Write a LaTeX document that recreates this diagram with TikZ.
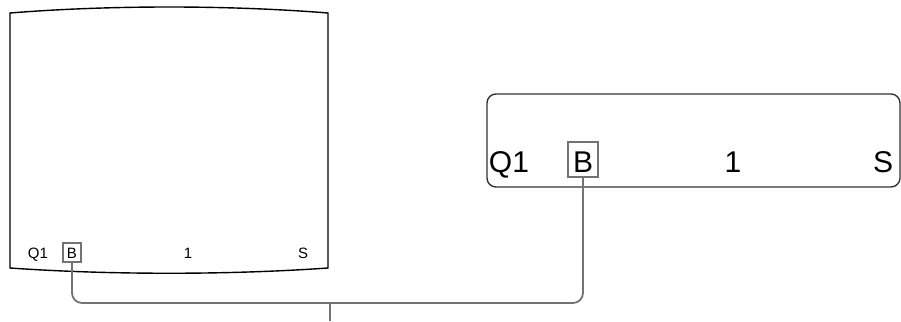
\documentclass[tikz,border=0pt]{standalone}
\usepackage{fontspec}
\setmainfont{Liberation Sans}
\begin{document}
\begin{tikzpicture}[x=1pt,y=-1pt,
  lbl/.style={inner sep=0pt,anchor=base,font=\fontsize{15}{15}\selectfont},
  big/.style={inner sep=0pt,anchor=base,font=\fontsize{30}{30}\selectfont},
  sbox/.style={draw=gray!90!black,line width=1.5pt,minimum width=18pt,minimum height=19pt,inner sep=0pt},
  bbox/.style={draw=gray!90!black,line width=1.5pt,minimum width=30pt,minimum height=35pt,inner sep=0pt},
  wire/.style={draw=gray!90!black,line width=1.8pt,rounded corners=10pt}]
\useasboundingbox (0,0) rectangle (901,321);
% left screen
\draw[line width=1.4pt] (10,13) .. controls (110,5) and (228,5) .. (328,13) -- (328,268)
   .. controls (228,275) and (110,275) .. (10,268) -- cycle;
\node[lbl] (q1a) at (38,258) {Q1};
\node[sbox] (ba) at (72,252.5) {};
\node[lbl] (bat) at (72,258) {B};
\node[lbl] (onea) at (188,258) {1};
\node[lbl] (sa) at (303,258) {S};
% right panel
\draw[black!80,line width=1.4pt,rounded corners=9pt] (487,94) rectangle (900,187);
\node[big] (q1b) at (509,172) {Q1};
\node[bbox] (bb) at (583,159.5) {};
\node[big] (bbt) at (583,172) {B};
\node[big] (oneb) at (733,172) {1};
\node[big] (sb) at (883,172) {S};
% connector
\coordinate (tick) at (330,321);
\draw[wire] (ba.south) |- (330,303) -| (bb.south);
\draw[gray!90!black,line width=1.8pt] (330,303) -- (tick);
\end{tikzpicture}
\end{document}
